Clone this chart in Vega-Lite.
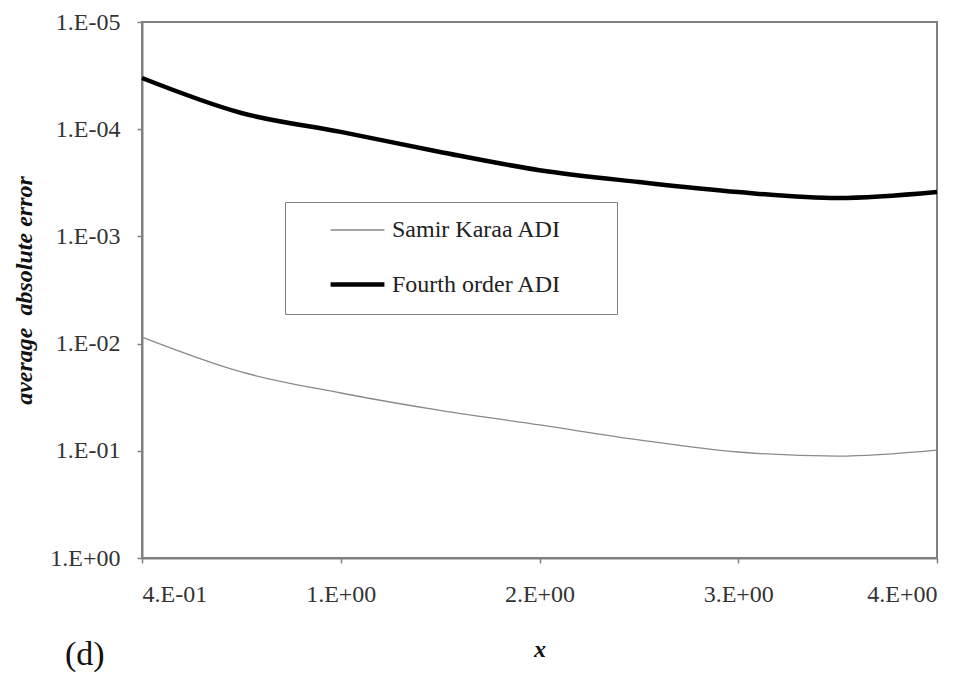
{
  "$schema": "https://vega.github.io/schema/vega-lite/v6.json",
  "width": 795,
  "height": 536,
  "autosize": {"type": "none"},
  "padding": {"left": 142, "top": 22, "right": 43, "bottom": 121},
  "background": "white",
  "config": {
    "view": {"stroke": "#808080", "strokeWidth": 2},
    "font": "Liberation Serif",
    "style": {
      "guide-label": {"font": "Liberation Serif"},
      "guide-title": {"font": "Liberation Serif"},
      "group-title": {"font": "Liberation Serif"}
    },
    "legend": {"labelFont": "Liberation Serif", "labelFontSize": 24, "labelLimit": 500, "labelColor": "#222222"},
    "axis": {
      "grid": false,
      "domainColor": "#808080",
      "domainWidth": 2,
      "tickColor": "#808080",
      "tickWidth": 1.5,
      "tickSize": 5,
      "labelFont": "Liberation Serif",
      "labelFontSize": 24,
      "labelColor": "#333333",
      "titleFont": "Liberation Serif",
      "titleFontSize": 24,
      "titleFontWeight": "bold",
      "titleFontStyle": "italic",
      "titleColor": "#111111"
    }
  },
  "title": {
    "text": "(d)",
    "orient": "bottom",
    "anchor": "start",
    "frame": "group",
    "fontSize": 34,
    "font": "Liberation Serif",
    "fontWeight": "normal",
    "color": "#111111",
    "offset": -23,
    "dx": -77
  },
  "data": {
    "values": [
      {"x": 0.4, "err": 0.0087, "series": "Samir Karaa ADI"},
      {"x": 0.85, "err": 0.0184, "series": "Samir Karaa ADI"},
      {"x": 1.3, "err": 0.0289, "series": "Samir Karaa ADI"},
      {"x": 1.75, "err": 0.042, "series": "Samir Karaa ADI"},
      {"x": 2.2, "err": 0.0574, "series": "Samir Karaa ADI"},
      {"x": 2.65, "err": 0.079, "series": "Samir Karaa ADI"},
      {"x": 3.1, "err": 0.1026, "series": "Samir Karaa ADI"},
      {"x": 3.55, "err": 0.112, "series": "Samir Karaa ADI"},
      {"x": 4.0, "err": 0.0985, "series": "Samir Karaa ADI"},
      {"x": 0.4, "err": 0.0000333, "series": "Fourth order ADI"},
      {"x": 0.85, "err": 0.0000706, "series": "Fourth order ADI"},
      {"x": 1.3, "err": 0.000106, "series": "Fourth order ADI"},
      {"x": 1.75, "err": 0.000163, "series": "Fourth order ADI"},
      {"x": 2.2, "err": 0.000241, "series": "Fourth order ADI"},
      {"x": 2.65, "err": 0.000311, "series": "Fourth order ADI"},
      {"x": 3.1, "err": 0.000386, "series": "Fourth order ADI"},
      {"x": 3.55, "err": 0.000439, "series": "Fourth order ADI"},
      {"x": 4.0, "err": 0.000386, "series": "Fourth order ADI"}
    ]
  },
  "mark": {"type": "line", "interpolate": "monotone", "strokeJoin": "round", "strokeCap": "butt"},
  "encoding": {
    "x": {
      "field": "x",
      "type": "quantitative",
      "scale": {"domain": [0.4, 4.0], "nice": false, "zero": false},
      "axis": {
        "title": "x",
        "values": [0.4, 1.3, 2.2, 3.1, 4.0],
        "labelExpr": "datum.value < 1 ? '4.E-01' : floor(datum.value + 0.001) + '.E+00'",
        "labelPadding": 19,
        "titleY": 98,
        "titleBaseline": "alphabetic"
      }
    },
    "y": {
      "field": "err",
      "type": "quantitative",
      "scale": {"type": "log", "domain": [0.00001, 1], "reverse": true, "nice": false},
      "axis": {
        "title": "average\u00a0 absolute error",
        "values": [0.00001, 0.0001, 0.001, 0.01, 0.1, 1],
        "labelExpr": "'1.E' + (round(log(datum.value)/LN10) < 0 ? '-0' + (-round(log(datum.value)/LN10)) : '+00')",
        "labelPadding": 17,
        "titleAngle": -90,
        "titleX": -118,
        "titleY": 268,
        "titleAlign": "center",
        "titleBaseline": "middle"
      }
    },
    "color": {
      "field": "series",
      "type": "nominal",
      "sort": ["Samir Karaa ADI", "Fourth order ADI"],
      "scale": {"domain": ["Samir Karaa ADI", "Fourth order ADI"], "range": ["#8a8a8a", "#000000"]},
      "legend": {
        "title": "\u00a0",
        "titleOrient": "right",
        "titleAnchor": "start",
        "titleBaseline": "top",
        "titleFontSize": 113,
        "titlePadding": 56,
        "orient": "none",
        "legendX": 143,
        "legendY": 180,
        "strokeColor": "#808080",
        "fillColor": "white",
        "padding": 0,
        "symbolType": "stroke",
        "symbolSize": 2900,
        "symbolOffset": 43,
        "labelOffset": 5,
        "labelFont": "Liberation Serif",
        "labelFontSize": 24,
        "labelLimit": 500,
        "labelColor": "#222222",
        "rowPadding": 13
      }
    },
    "strokeWidth": {
      "field": "series",
      "type": "nominal",
      "sort": ["Samir Karaa ADI", "Fourth order ADI"],
      "scale": {"domain": ["Samir Karaa ADI", "Fourth order ADI"], "range": [1.3, 4.5]},
      "legend": {
        "title": "\u00a0",
        "titleOrient": "right",
        "titleAnchor": "start",
        "titleBaseline": "top",
        "titleFontSize": 113,
        "titlePadding": 56,
        "orient": "none",
        "legendX": 143,
        "legendY": 180,
        "strokeColor": "#808080",
        "fillColor": "white",
        "padding": 0,
        "symbolType": "stroke",
        "symbolSize": 2900,
        "symbolOffset": 43,
        "labelOffset": 5,
        "labelFont": "Liberation Serif",
        "labelFontSize": 24,
        "labelLimit": 500,
        "labelColor": "#222222",
        "rowPadding": 13
      }
    }
  }
}
